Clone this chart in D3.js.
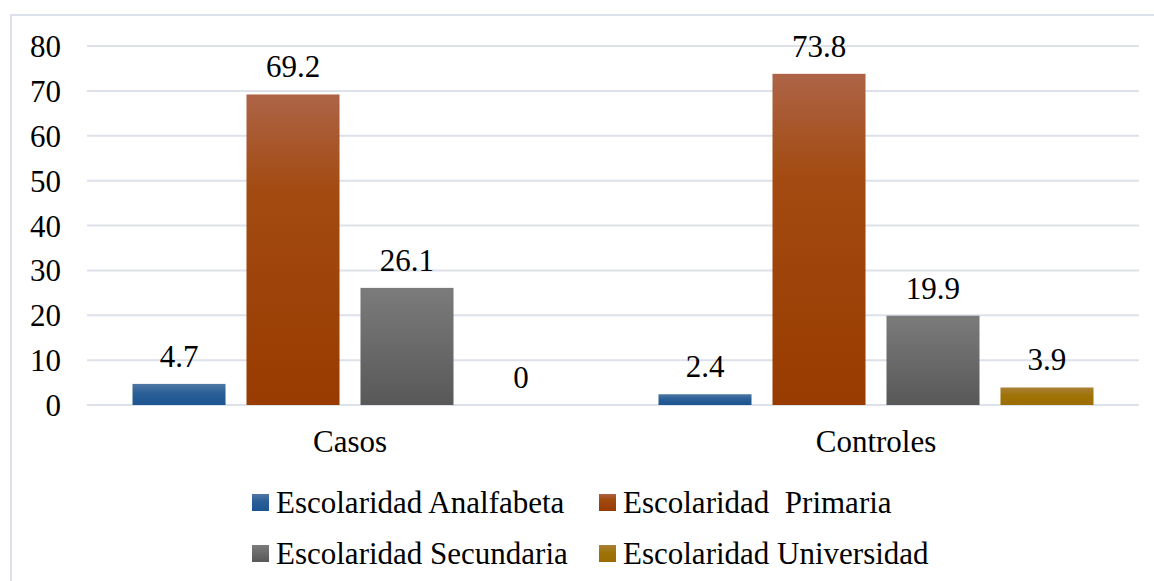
<!DOCTYPE html>
<html><head><meta charset="utf-8">
<script src="https://cdn.jsdelivr.net/npm/d3@7"></script>
<style>text{font-family:'Liberation Serif', monospace;}</style>
</head>
<body><svg id="c" width="1154" height="581" font-family="Liberation Serif" font-size="31"></svg>
<script>
const categories = ["Casos", "Controles"];
const seriesNames = ["Escolaridad Analfabeta", "Escolaridad  Primaria", "Escolaridad Secundaria", "Escolaridad Universidad"];
const casosValues = [4.7, 69.2, 26.1, 0];
const controlesValues = [2.4, 73.8, 19.9, 3.9];
const yTicks = [0, 10, 20, 30, 40, 50, 60, 70, 80];

const valuesByCat = [casosValues, controlesValues];
const gradStops = [
  [["0%","#4f77a5"],["45%","#2a5f96"],["100%","#1d5592"]],
  [["0%","#ad6447"],["30%","#a34b12"],["100%","#983b00"]],
  [["0%","#7b7b7b"],["100%","#585858"]],
  [["0%","#a97f38"],["45%","#a07307"],["100%","#9c6d00"]]
];
function styleText(sel){
  sel.attr("font-family","Liberation Serif").attr("font-size",31).attr("fill","#000")
    .style("font-family","'Liberation Serif', monospace").style("font-size","31px");
}

d3.select("body").style("margin","0");
const svg = d3.select("#c");
const defs = svg.append("defs");
gradStops.forEach((stops,i)=>{
  const g = defs.append("linearGradient").attr("id","g"+i).attr("x1",0).attr("y1",0).attr("x2",0).attr("y2",1);
  stops.forEach(s=>g.append("stop").attr("offset",s[0]).attr("stop-color",s[1]));
});

// outer border
svg.append("rect").attr("x",11).attr("y",15).attr("width",1200).attr("height",700)
  .attr("fill","none").attr("stroke","#dde2ea").attr("stroke-width",2);

const plotL = 87, plotR = 1139, plotT = 46, plotB = 405;
const y = d3.scaleLinear().domain([0,80]).range([plotB, plotT]);
const x0 = d3.scaleBand().domain(categories).range([plotL, plotR]).padding(0);
const x1 = d3.scaleBand().domain(seriesNames).range([45.5, x0.bandwidth()-45.5]).paddingInner(0.184).paddingOuter(0);

// gridlines
svg.append("g").selectAll("line").data(yTicks).join("line")
  .attr("x1",plotL).attr("x2",plotR).attr("y1",d=>y(d)).attr("y2",d=>y(d))
  .attr("stroke","#dde2ea").attr("stroke-width",2);

// y axis labels
const yAxis = d3.axisLeft(y).tickValues(yTicks).tickSize(0).tickPadding(0).tickFormat(d3.format("d"));
const ya = svg.append("g").attr("transform","translate(61,0)").call(yAxis);
ya.attr("font-family","Liberation Serif").attr("font-size",31);
ya.select(".domain").remove();
ya.selectAll("text").call(styleText).attr("dy","0.34em");

// x axis labels
const xAxis = d3.axisBottom(x0).tickSize(0).tickPadding(0);
const xa = svg.append("g").attr("transform","translate(0,430)").call(xAxis);
xa.attr("font-family","Liberation Serif").attr("font-size",31);
xa.select(".domain").remove();
xa.selectAll("text").call(styleText).attr("dy","0.72em");

// bars
const groups = svg.append("g").selectAll("g").data(categories).join("g")
  .attr("transform",d=>`translate(${x0(d)},0)`);
groups.each(function(cat,ci){
  const data = valuesByCat[ci].map((v,i)=>({s:seriesNames[i],v,i}));
  const g = d3.select(this);
  g.selectAll("rect").data(data).join("rect")
    .attr("x",d=>x1(d.s)).attr("width",x1.bandwidth())
    .attr("y",d=>y(d.v)).attr("height",d=>y(0)-y(d.v))
    .attr("fill",d=>`url(#g${d.i})`);
  g.selectAll("text").data(data).join("text")
    .attr("x",d=>x1(d.s)+x1.bandwidth()/2).attr("y",d=>y(d.v)-17)
    .attr("text-anchor","middle").text(d=>String(d.v)).call(styleText);
});

// legend
const legendPos = [[252,494],[599,494],[252,545],[599,545]];
const lg = svg.append("g").selectAll("g").data(seriesNames).join("g")
  .attr("transform",(d,i)=>`translate(${legendPos[i][0]},${legendPos[i][1]})`);
lg.append("rect").attr("width",17).attr("height",17).attr("fill",(d,i)=>`url(#g${i})`);
lg.append("text").attr("x",24).attr("y",19).text(d=>d.replace(/  /g,"\u00a0 ")).call(styleText);
</script></body></html>
